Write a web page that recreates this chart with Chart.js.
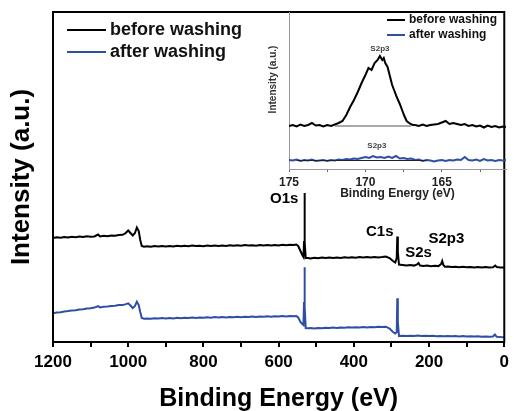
<!DOCTYPE html>
<html>
<head>
<meta charset="utf-8">
<script src="https://cdn.jsdelivr.net/npm/chart.js@4.4.1/dist/chart.umd.min.js"></script>
<style>
  html, body { margin: 0; padding: 0; background: #fff; }
  #wrap { position: relative; width: 514px; height: 411px; }
  #survey { position: absolute; left: 0; top: 0; }
  #inset { position: absolute; left: 262px; top: 0; }
</style>
</head>
<body>
<div id="wrap">
  <canvas id="survey" width="514" height="411"></canvas>
  <canvas id="inset" width="252" height="205"></canvas>
</div>
<script>
// survey spectra, [binding energy eV, intensity a.u.]
const surveyBefore = [
  [1200,104],[1190,104.8],[1180,104.2],[1170,105],[1160,104.5],[1150,105.3],[1140,104.7],[1130,105.5],
  [1120,105],[1110,105.8],[1100,105.2],[1090,105.6],[1080,107.5],[1075,105.5],[1065,106.2],[1055,105.8],
  [1045,106.5],[1035,106.3],[1025,107],[1015,107.2],[1008,108.5],[1000,111.5],[994,109],[988,106.5],
  [982,109],[977,114.5],[972,111],[968,102],[964,96],[958,95.2],[950,95.8],[940,95.3],[930,95.9],
  [920,95.4],[910,96],[900,95.5],[890,96.1],[880,95.6],[870,96.2],[860,95.7],[850,96.3],[840,95.8],
  [830,96.4],[820,95.9],[810,96.3],[800,95.8],[790,96.5],[780,96],[770,96.6],[760,96.1],[750,96.5],
  [740,96],[730,96.7],[720,96.2],[710,96.8],[700,96.3],[690,96.9],[680,96.4],[670,96.8],[660,96.3],
  [650,97],[640,96.5],[630,97.1],[620,96.6],[610,97],[600,96.5],[590,97.2],[580,96.7],[570,97.3],
  [560,97],[553,97.5],[548,96],[542,91],[537,87],[534,85],[532.5,100],[531.5,149],[530,100],[528,84],
  [522,84],[515,83.5],[505,84.2],[495,83.8],[485,84.4],[475,83.9],[465,84.5],[455,84],[445,84.6],
  [435,84.1],[425,84.7],[415,84.2],[405,84.8],[395,84.3],[385,84.9],[375,84.4],[365,85],[355,84.5],
  [345,85.1],[335,84.6],[325,85],[315,85.5],[305,84],[296,81],[290,79.5],[286,84],[284.5,105.5],
  [283,90],[280,77.5],[270,77],[260,76.5],[250,77],[240,76.4],[232,77.5],[228,79],[224,76.5],
  [215,76],[205,76.4],[195,75.8],[185,76.2],[175,75.9],[168,78],[165,81],[162,77],[158,75.2],
  [150,75.5],[140,74.9],[130,75.3],[120,74.8],[110,75.2],[100,74.7],[90,75.1],[80,74.6],[70,75],
  [60,74.5],[50,74.9],[40,74.5],[30,74.8],[24,76.5],[20,75],[10,74.6],[0,74.4]
];
const surveyAfter = [
  [1200,28.7],[1190,29.5],[1180,29.8],[1170,30.6],[1160,30.9],[1150,31.5],[1140,31.8],[1130,32.6],
  [1120,32.8],[1110,33.5],[1100,33.7],[1090,34.4],[1080,35.8],[1075,34.6],[1065,35.2],[1055,35.4],
  [1045,36.1],[1035,36.2],[1025,36.9],[1015,37],[1008,37.6],[1000,38.7],[994,36.5],[988,34],
  [982,36],[977,40.3],[972,37],[968,30],[964,24],[958,23.2],[950,23.6],[940,23.2],[930,23.8],
  [920,23.4],[910,23.9],[900,23.5],[890,24.1],[880,23.6],[870,24.2],[860,23.8],[850,24.3],[840,24],
  [830,24.5],[820,24.1],[810,24.6],[800,24.2],[790,24.8],[780,24.3],[770,24.9],[760,24.5],[750,25],
  [740,24.6],[730,25.1],[720,24.7],[710,25.2],[700,24.8],[690,25.3],[680,25],[670,25.5],[660,25.1],
  [650,25.6],[640,25.2],[630,25.7],[620,25.3],[610,25.8],[600,25.5],[590,25.9],[580,25.6],[570,26.1],
  [560,25.8],[553,26],[548,24.5],[542,20],[537,18],[534,17],[532.5,40],[531.5,74.7],[530,35],
  [528,14],[522,13.7],[515,13.9],[505,13.6],[495,14.1],[485,13.8],[475,14.3],[465,14],[455,14.4],
  [445,14.1],[435,14.6],[425,14.2],[415,14.7],[405,14.4],[395,14.8],[385,14.5],[375,15],[365,14.6],
  [355,15.1],[345,14.8],[335,15.2],[325,15],[315,15.3],[305,13.5],[296,10],[290,8.5],[286,10],
  [284.5,43.7],[283,20],[280,6],[270,6.2],[260,5.9],[250,6.3],[240,6],[230,6.4],[220,6.1],[210,6.3],
  [200,5.9],[190,6.2],[180,5.8],[170,6.1],[160,5.8],[150,6],[140,5.7],[130,6],[120,5.6],[110,5.9],
  [100,5.5],[90,5.8],[80,5.4],[70,5.7],[60,5.3],[50,5.6],[40,5.2],[30,5.5],[25,7.5],[20,5.2],
  [10,4.9],[0,4.7]
];

// S 2p detail, [binding energy eV, intensity a.u.]
const detailBefore = [
  [175,43],[174.75,44],[174.5,42.5],[174.25,44.5],[174,43],[173.75,44],[173.5,46],[173.25,43.5],
  [173,44],[172.75,42.5],[172.5,44],[172.25,43],[172,44.5],[171.75,46],[171.5,48],[171.25,54],
  [171,62],[170.75,69],[170.5,77],[170.25,86],[170,94],[169.8,101],[169.6,99],[169.4,106],
  [169.2,109],[169.05,113],[168.9,109],[168.8,111],[168.7,106],[168.55,102],[168.4,93],[168.25,84],
  [168.1,78],[167.95,72],[167.75,65],[167.6,59],[167.45,53],[167.3,48],[167.1,45.5],[166.9,44],
  [166.75,44],[166.5,43],[166.25,44.5],[166,43],[165.75,44],[165.5,44.5],[165.25,45],[165,46.5],
  [164.75,48],[164.5,45],[164.25,46],[164,45],[163.75,44],[163.5,45],[163.25,43],[163,44],
  [162.75,42.5],[162.5,43.5],[162.25,41.5],[162,43.5],[161.75,42],[161.5,43],[161.25,41.5],
  [161,42.5],[160.8,42]
];
const detailAfter = [
  [175,9],[174.75,8.5],[174.5,9.5],[174.25,8],[174,9],[173.75,8.5],[173.5,9.5],[173.25,8],
  [173,8.5],[172.75,9],[172.5,8],[172.25,9],[172,8.5],[171.75,9.5],[171.5,9],[171.25,10],
  [171,9.5],[170.75,10.5],[170.5,10],[170.25,11],[170,12],[169.75,11],[169.5,13],[169.25,11.5],
  [169,12],[168.75,11],[168.5,12.5],[168.25,11],[168,13],[167.75,10.5],[167.5,11],[167.25,10],
  [167,10.5],[166.75,9],[166.5,9.5],[166.25,8],[166,9],[165.75,8.5],[165.5,7.5],[165.25,8.5],
  [165,9],[164.75,8],[164.5,9],[164.25,8.5],[164,9.5],[163.75,9],[163.5,12],[163.25,9],
  [163,8.5],[162.75,9.5],[162.5,8],[162.25,10],[162,8.5],[161.75,9],[161.5,8],[161.25,9],
  [161,8.5],[160.8,9]
];
const detailBeforeBg = [[172,43],[167,43]];
const detailAfterBg = [[174.5,8.5],[166,8.5]];

const seriesNames = ['before washing', 'after washing'];
const seriesColors = ['#000000', '#2f4fa6'];

const surveyTicks = [1200, 1000, 800, 600, 400, 200, 0];
const detailTicks = [175, 170, 165];

const surveyPeakNames = ['O1s', 'C1s', 'S2s', 'S2p3'];
const surveyPeakE = [585, 331, 228, 154];
const surveyPeakI = [143, 110, 89, 103];

const detailPeakNames = ['S2p3', 'S2p3'];
const detailPeakE = [169.05, 169.25];
const detailPeakI = [120, 23];

const FONT = "'Liberation Sans', Arial, sans-serif";
Chart.defaults.font.family = FONT;
Chart.defaults.color = '#000';

const pts = arr => arr.map(([x, y]) => ({ x, y }));

const line = (label, data, color, width) => ({
  label, data: pts(data), borderColor: color, borderWidth: width,
  pointRadius: 0, tension: 0, fill: false
});

// frame round the main plot
const framePlugin = {
  id: 'frame',
  afterDatasetsDraw(chart) {
    const { ctx, chartArea: a } = chart;
    ctx.save();
    ctx.strokeStyle = '#000';
    ctx.lineWidth = 2;
    ctx.strokeRect(a.left, a.top, a.right - a.left, a.bottom - a.top);
    ctx.restore();
  }
};

const legendPlugin = (opts) => ({
  id: 'legendBox',
  afterDraw(chart) {
    const { ctx, chartArea: a } = chart;
    ctx.save();
    ctx.font = opts.font;
    ctx.textBaseline = 'middle';
    ctx.textAlign = 'left';
    seriesNames.forEach((name, i) => {
      const y = a.top + opts.top + i * opts.gap;
      const x0 = a.left + opts.left;
      ctx.strokeStyle = seriesColors[i];
      ctx.lineWidth = 2;
      ctx.beginPath();
      ctx.moveTo(x0, y);
      ctx.lineTo(x0 + opts.len, y);
      ctx.stroke();
      ctx.fillStyle = '#111';
      ctx.fillText(name, x0 + opts.len + 4, y);
    });
    ctx.restore();
  }
});

const peakPlugin = (names, es, is, font, color) => ({
  id: 'peaks',
  afterDraw(chart) {
    const { ctx, scales } = chart;
    ctx.save();
    ctx.font = font;
    ctx.fillStyle = color;
    ctx.textAlign = 'center';
    ctx.textBaseline = 'middle';
    names.forEach((n, i) => {
      ctx.fillText(n, scales.x.getPixelForValue(es[i]), scales.y.getPixelForValue(is[i]));
    });
    ctx.restore();
  }
});

new Chart(document.getElementById('survey'), {
  type: 'line',
  data: {
    datasets: [
      line(seriesNames[0], surveyBefore, seriesColors[0], 2),
      line(seriesNames[1], surveyAfter, seriesColors[1], 2)
    ]
  },
  options: {
    responsive: false,
    animation: false,
    layout: { padding: { top: 12, right: 8, left: 0, bottom: 0 } },
    scales: {
      x: {
        type: 'linear', reverse: true, min: 0, max: 1200,
        afterFit: s => { s.height = 69; },
        border: { display: false },
        grid: { display: true, drawOnChartArea: false, drawTicks: true, tickLength: 5, color: '#000', lineWidth: 2 },
        ticks: {
          stepSize: 100, padding: 5, maxRotation: 0, minRotation: 0, autoSkip: false,
          font: { size: 17, weight: 'bold' }, color: '#000',
          callback: v => surveyTicks.includes(v) ? String(v) : ''
        },
        title: { display: true, text: 'Binding Energy (eV)', font: { size: 25, weight: 'bold' }, color: '#000', padding: { top: 0, bottom: -3 } }
      },
      y: {
        min: 0, max: 330,
        afterFit: s => { s.width = 53; },
        border: { display: false },
        grid: { display: false },
        ticks: { display: false },
        title: { display: true, text: 'Intensity (a.u.)', font: { size: 26, weight: 'bold' }, color: '#000', padding: { top: 6, bottom: 0 } }
      }
    },
    plugins: { legend: { display: false }, tooltip: { enabled: false } }
  },
  plugins: [
    framePlugin,
    legendPlugin({ font: 'bold 18px ' + FONT, top: 18, gap: 22, left: 14, len: 39 }),
    peakPlugin(surveyPeakNames, surveyPeakE, surveyPeakI, 'bold 15px ' + FONT, '#000')
  ]
});

const insetTitlePlugin = {
  id: 'insetTitle',
  afterDraw(chart) {
    const { ctx, chartArea: a } = chart;
    ctx.save();
    ctx.translate(a.left - 16, a.top + (a.bottom - a.top) * 0.43);
    ctx.rotate(-Math.PI / 2);
    ctx.font = 'bold 10px ' + FONT;
    ctx.fillStyle = '#333';
    ctx.textAlign = 'center';
    ctx.textBaseline = 'middle';
    ctx.fillText('Intensity (a.u.)', 0, 0);
    ctx.restore();
  }
};

new Chart(document.getElementById('inset'), {
  type: 'line',
  data: {
    datasets: [
      line('', detailBeforeBg, '#555', 1),
      line('', detailAfterBg, '#222', 1),
      line(seriesNames[0], detailBefore, seriesColors[0], 2),
      line(seriesNames[1], detailAfter, seriesColors[1], 2)
    ]
  },
  options: {
    responsive: false,
    animation: false,
    layout: { padding: { top: 12, right: 8, left: 0, bottom: 0 } },
    scales: {
      x: {
        type: 'linear', reverse: true, min: 160.8, max: 175,
        afterFit: s => { s.height = 36; },
        border: { display: true, color: '#999', width: 1 },
        grid: { display: true, drawOnChartArea: false, drawTicks: true, tickLength: 3, color: '#666', lineWidth: 1 },
        ticks: {
          stepSize: 2.5, padding: 3, includeBounds: false, maxRotation: 0, autoSkip: false,
          font: { size: 12, weight: 'bold' }, color: '#222',
          callback: v => detailTicks.includes(v) ? String(v) : ''
        },
        title: { display: true, text: 'Binding Energy (eV)', font: { size: 12, weight: 'bold' }, color: '#222', padding: { top: 0, bottom: 4 } }
      },
      y: {
        min: 0, max: 157,
        afterFit: s => { s.width = 27; },
        border: { display: true, color: '#999', width: 1 },
        grid: { display: false },
        ticks: { display: false }
      }
    },
    plugins: { legend: { display: false }, tooltip: { enabled: false } }
  },
  plugins: [
    insetTitlePlugin,
    legendPlugin({ font: 'bold 12px ' + FONT, top: 8, gap: 15, left: 98, len: 18 }),
    peakPlugin(detailPeakNames, detailPeakE, detailPeakI, 'bold 8px ' + FONT, '#444')
  ]
});
</script>
</body>
</html>
